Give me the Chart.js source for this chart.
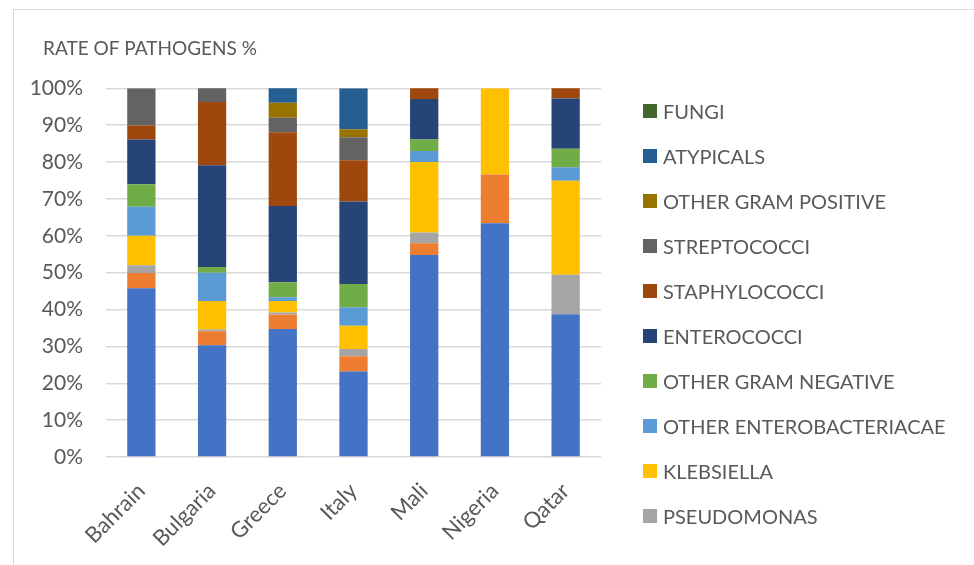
<!DOCTYPE html>
<html>
<head>
<meta charset="utf-8">
<script src="https://cdn.jsdelivr.net/npm/chart.js@4.4.0/dist/chart.umd.min.js"></script>
<style>
  html, body { margin: 0; padding: 0; background: #fff; overflow: hidden; }
  #wrap { position: relative; width: 974px; height: 565px; }
  #frame { position: absolute; left: 13px; top: 9px; width: 1000px; height: 600px; border: 1px solid #d9d9d9; box-sizing: border-box; }
  #myChart { position: absolute; left: 0; top: 0; }
  #legend { position: absolute; left: 643px; top: 88px; margin: 0; padding: 0; list-style: none; font: 20px Lato, sans-serif; color: #595959; }
  #legend li { height: 45px; display: flex; align-items: center; white-space: nowrap; }
  #legend .box { display: inline-block; width: 14px; height: 14px; margin-right: 6px; }
</style>
</head>
<body>
<div id="wrap">
  <div id="frame"></div>
  <canvas id="myChart" width="974" height="565"></canvas>
  <ul id="legend"></ul>
</div>
<script>
"use strict";

/* categories */
var countries = ['Bahrain', 'Bulgaria', 'Greece', 'Italy', 'Mali', 'Nigeria', 'Qatar'];

/* % of pathogens per country, bottom to top of each bar */
var eColi        = [45.8, 30.3, 34.7, 23.2, 54.8, 63.4, 38.7];
var proteus      = [4.1, 3.8, 3.9, 4.1, 3.2, 13.2, 0];
var pseudomonas  = [2.1, 0.5, 0.6, 2.0, 2.9, 0, 10.7];
var klebsiella   = [8.0, 7.7, 3.1, 6.3, 19.1, 23.4, 25.5];
var otherEntero  = [7.9, 7.7, 1.0, 5.0, 3.0, 0, 3.7];
var otherGramNeg = [6.1, 1.5, 4.1, 6.3, 3.1, 0, 5.0];
var enterococci  = [12.1, 27.6, 20.7, 22.4, 11.0, 0, 13.6];
var staphylo     = [3.8, 17.2, 20.0, 11.2, 3.0, 0, 2.9];
var strepto      = [10.1, 3.9, 3.9, 6.2, 0, 0, 0];
var otherGramPos = [0, 0, 4.1, 2.2, 0, 0, 0];
var atypicals    = [0, 0, 4.1, 11.1, 0, 0, 0];
var fungi        = [0, 0, 0, 0, 0, 0, 0];

var yTicks = [0, 10, 20, 30, 40, 50, 60, 70, 80, 90, 100];

var textColor = '#595959';
var fontFamily = 'Lato, sans-serif';

/* office palette */
var series = [
    ['E. COLI', eColi, '#4472C4'],
    ['PROTEUS', proteus, '#ED7D31'],
    ['PSEUDOMONAS', pseudomonas, '#A5A5A5'],
    ['KLEBSIELLA', klebsiella, '#FFC000'],
    ['OTHER ENTEROBACTERIACAE', otherEntero, '#5B9BD5'],
    ['OTHER GRAM NEGATIVE', otherGramNeg, '#70AD47'],
    ['ENTEROCOCCI', enterococci, '#264478'],
    ['STAPHYLOCOCCI', staphylo, '#9E480E'],
    ['STREPTOCOCCI', strepto, '#636363'],
    ['OTHER GRAM POSITIVE', otherGramPos, '#997300'],
    ['ATYPICALS', atypicals, '#255E91'],
    ['FUNGI', fungi, '#43682B']
];

var datasets = series.map(function (s) {
    return {
        label: s[0],
        data: s[1],
        backgroundColor: s[2],
        borderWidth: 0,
        barPercentage: 0.4,
        categoryPercentage: 1
    };
});

/* title sits a bit right of the axis labels */
var titleShift = {
    id: 'titleShift',
    afterLayout: function (chart) {
        chart.titleBlock.left = 43;
    }
};

var ctx = document.getElementById('myChart');
var chart = new Chart(ctx, {
    type: 'bar',
    data: { labels: countries, datasets: datasets },
    plugins: [titleShift],
    options: {
        responsive: false,
        animation: false,
        layout: { padding: { left: 28, right: 373, top: 0, bottom: 0 } },
        plugins: {
            legend: { display: false },
            tooltip: { enabled: false },
            title: {
                display: true,
                text: 'RATE OF PATHOGENS %',
                align: 'start',
                color: textColor,
                font: { family: fontFamily, size: 19, weight: 'normal' },
                padding: { top: 37.3, bottom: 28.2 }
            }
        },
        scales: {
            x: {
                stacked: true,
                grid: { display: false },
                border: { display: false },
                ticks: {
                    color: textColor,
                    font: { family: fontFamily, size: 22 },
                    minRotation: 45,
                    maxRotation: 45,
                    padding: 13
                },
                afterFit: function (scale) { scale.height = 108; }
            },
            y: {
                stacked: true,
                min: 0,
                max: 100,
                grid: { color: '#d9d9d9', lineWidth: 1.5, drawTicks: false },
                border: { display: false },
                afterBuildTicks: function (scale) {
                    scale.ticks = yTicks.map(function (v) { return { value: v }; });
                },
                ticks: {
                    color: textColor,
                    font: { family: fontFamily, size: 21 },
                    padding: 23,
                    callback: function (v) { return v + '%'; }
                },
                afterFit: function (scale) { scale.width = 78; }
            }
        }
    }
});

/* legend: the two bottom entries are cut off in the original, so they are left out */
var legendEl = document.getElementById('legend');
chart.data.datasets.slice(2).reverse().forEach(function (ds) {
    var li = document.createElement('li');
    var box = document.createElement('span');
    box.className = 'box';
    box.style.background = ds.backgroundColor;
    li.appendChild(box);
    li.appendChild(document.createTextNode(ds.label));
    legendEl.appendChild(li);
});
</script>
</body>
</html>
